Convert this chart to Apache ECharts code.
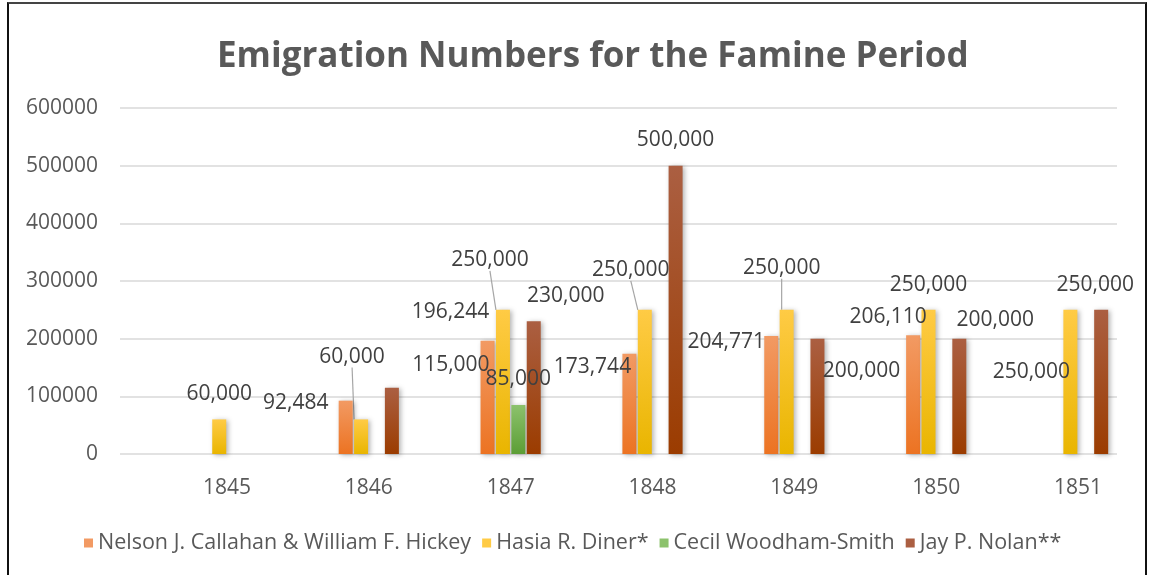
<!DOCTYPE html>
<html>
<head>
<meta charset="utf-8">
<script src="https://cdn.jsdelivr.net/npm/echarts@6/dist/echarts.min.js"></script>
<style>
  html, body { margin: 0; padding: 0; background: #fff; }
  #chart { width: 1149px; height: 575px; }
  #frame {
    position: absolute; left: 7px; top: 2px; width: 1136px; height: 580px;
    border: 2px solid #111; border-top-color: #444; border-bottom: none;
    pointer-events: none;
  }
</style>
</head>
<body>
<div id="chart"></div>
<div id="frame"></div>
<script>
const years = ['1845', '1846', '1847', '1848', '1849', '1850', '1851']
const seriesNames = [
  'Nelson J. Callahan & William F. Hickey',
  'Hasia R. Diner*',
  'Cecil Woodham-Smith',
  'Jay P. Nolan**'
]
const callahan = [null, 92484, 196244, 173744, 204771, 206110, null]
const diner = [60000, 60000, 250000, 250000, 250000, 250000, 250000]
const woodham = [null, null, 85000, null, null, null, null]
const nolan = [null, 115000, 230000, 500000, 200000, 200000, 250000]
const yMin = 0
const yMax = 600000
const yStep = 100000

// label shifts (px) from the bar top, like the hand-moved labels in the original
const labelShift = [
  [null, [-50, 13], [-37, -18], [-37, 24], [-45, 17], [-25, -8], null],
  [[0, -15], [-9, -52], [-13, -39], [-14, -29], [-5, -31], [0, -14], [-39, 73]],
  [null, null, [0, -15], null, null, null, null],
  [null, [59, -12], [32, -15], [0, -15], [44, 43], [36, -8], [-6, -14]]
]
// labels that get a leader line
const leaders = [[], [1, 2, 3, 4], [], []]

const colors = [
  ['#F29A63', '#EC7322'],
  ['#FFCB45', '#E9B500'],
  ['#8CC26C', '#5C9E35'],
  ['#AB5F42', '#9B3C00']
]

const fontFamily = '"Open Sans", sans-serif'

const chart = echarts.init(document.getElementById('chart'))

const makeSeries = (values, i) => ({
  name: seriesNames[i],
  type: 'bar',
  xAxisIndex: 1,
  yAxisIndex: 1,
  barWidth: 14,
  barGap: '10%',
  data: values.map((v, j) => ({
    value: v,
    labelLine: { show: leaders[i].includes(j) }
  })),
  itemStyle: {
    color: new echarts.graphic.LinearGradient(0, 0, 0, 1, [
      { offset: 0, color: colors[i][0] },
      { offset: 1, color: colors[i][1] }
    ]),
    shadowBlur: 5,
    shadowOffsetX: 2,
    shadowOffsetY: 1,
    shadowColor: 'rgba(0, 0, 0, 0.3)'
  },
  label: {
    show: true,
    position: 'top',
    distance: 0,
    fontFamily,
    fontSize: 21,
    color: '#404040',
    formatter: (p) => p.value == null ? '' : p.value.toLocaleString('en-US')
  },
  labelLine: {
    lineStyle: { color: '#A6A6A6', width: 1.2 }
  },
  labelLayout: (p) => {
    const s = labelShift[i][p.dataIndex]
    return s ? { dx: s[0], dy: s[1] } : {}
  }
})

const option = {
  animation: false,
  title: {
    text: 'Emigration Numbers for the Famine Period',
    left: 212,
    top: 35,
    textStyle: {
      fontFamily,
      fontWeight: 'bold',
      fontSize: 35,
      color: '#595959'
    }
  },
  legend: {
    left: 79,
    top: 527,
    itemWidth: 9,
    itemHeight: 9,
    itemGap: 11,
    icon: 'rect',
    textStyle: { fontFamily, fontSize: 21.5, color: '#595959' },
    data: seriesNames.map((n, i) => ({ name: n, itemStyle: { color: colors[i][0] } }))
  },
  grid: [
    { left: 120, top: 108, width: 997, height: 346 },
    { left: 156, top: 108, width: 996, height: 346 }
  ],
  xAxis: [
    { gridIndex: 0, type: 'category', data: years, show: false },
    {
      gridIndex: 1,
      type: 'category',
      data: years,
      axisLine: { show: false },
      axisTick: { show: false },
      axisLabel: { margin: 24, fontFamily, fontSize: 21, color: '#595959' }
    }
  ],
  yAxis: [
    {
      gridIndex: 0,
      type: 'value',
      min: yMin,
      max: yMax,
      interval: yStep,
      axisLine: { show: false },
      axisTick: { show: false },
      axisLabel: { margin: 22, fontFamily, fontSize: 21, color: '#595959', formatter: (v) => String(v) },
      splitLine: { lineStyle: { color: '#D9D9D9', width: 1.5 } }
    },
    { gridIndex: 1, type: 'value', min: yMin, max: yMax, interval: yStep, show: false, splitLine: { show: false } }
  ],
  series: [callahan, diner, woodham, nolan].map(makeSeries)
}

chart.setOption(option)
</script>
</body>
</html>
